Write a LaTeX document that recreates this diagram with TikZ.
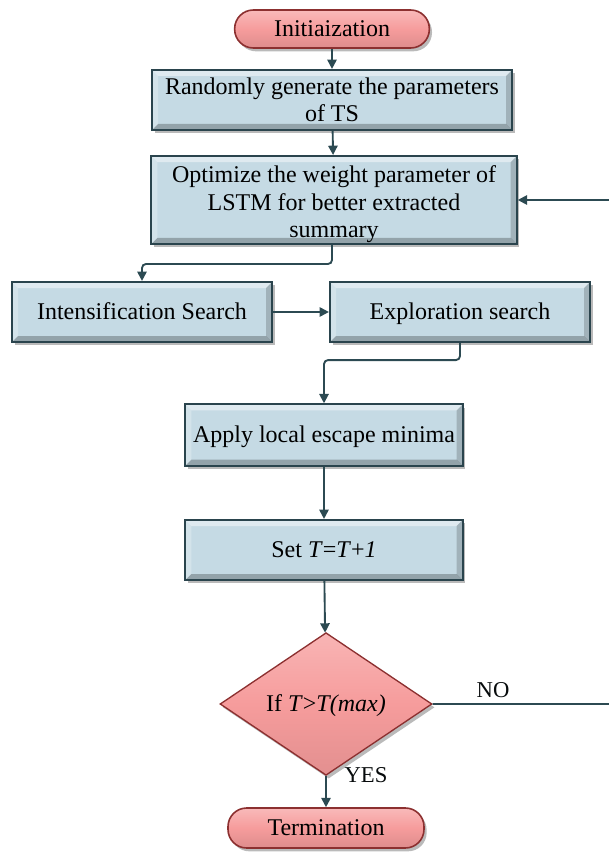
\documentclass[tikz,border=0pt]{standalone}
\usepackage{fontspec}
\setmainfont{Liberation Serif}
\usetikzlibrary{shapes.geometric,arrows.meta,shadows,calc}
\definecolor{boxfill}{HTML}{C5DAE4}
\definecolor{boxedge}{HTML}{2A444D}
\definecolor{redfill}{HTML}{F69C9C}
\definecolor{rededge}{HTML}{8C3030}
\definecolor{arrcol}{HTML}{2C4A52}
\tikzset{
  base/.style={font=\fontsize{18}{20.5}\selectfont, align=center, inner sep=1pt,
    drop shadow={shadow xshift=2pt, shadow yshift=-2.5pt, fill=black!45, opacity=0.6}},
  one/.style={text height=13pt, text depth=1.5pt},
  bevel/.style={path picture={
    \fill[white,opacity=0.45] (path picture bounding box.north west) -- (path picture bounding box.north east)
      -- ($(path picture bounding box.north east)+(-#1,-#1)$) -- ($(path picture bounding box.north west)+(#1,-#1)$) -- cycle;
    \fill[white,opacity=0.25] (path picture bounding box.north west) -- (path picture bounding box.south west)
      -- ($(path picture bounding box.south west)+(#1,#1)$) -- ($(path picture bounding box.north west)+(#1,-#1)$) -- cycle;
    \fill[black,opacity=0.18] (path picture bounding box.north east) -- (path picture bounding box.south east)
      -- ($(path picture bounding box.south east)+(-#1,#1)$) -- ($(path picture bounding box.north east)+(-#1,-#1)$) -- cycle;
    \fill[black,opacity=0.25] (path picture bounding box.south west) -- (path picture bounding box.south east)
      -- ($(path picture bounding box.south east)+(-#1,#1)$) -- ($(path picture bounding box.south west)+(#1,#1)$) -- cycle;
  }},
  procbox/.style={base, rectangle, draw=boxedge, line width=1.6pt, fill=boxfill, bevel=4.5pt},
  termbox/.style={base, one, rectangle, rounded corners=14pt, draw=rededge, line width=1.2pt,
    top color=redfill!70!white, bottom color=redfill!90!black, middle color=redfill},
  decbox/.style={base, one, diamond, draw=rededge, line width=1pt, inner sep=0pt,
    top color=redfill!75!white, bottom color=redfill!92!black, middle color=redfill},
  arr/.style={draw=arrcol, line width=1.4pt, -{Triangle[length=7pt,width=7pt]}, rounded corners=3pt},
  lbl/.style={font=\fontsize{17}{18}\selectfont, text=black!85!arrcol, inner sep=0pt}
}
\begin{document}
\begin{tikzpicture}[x=0.75pt,y=-0.75pt]
\useasboundingbox (0,0) rectangle (608,852);
\node[termbox, minimum width=146pt, minimum height=28.5pt] (init) at (332,29) {Initiaization};
\node[procbox, minimum width=270pt, minimum height=45pt] (b1) at (332,100)
  {Randomly generate the parameters\\of TS};
\node[procbox, minimum width=274pt, minimum height=64pt] (b2) at (334,200)
  {\rule{0pt}{19pt}Optimize the weight parameter of\\LSTM for better extracted\\summary};
\node[procbox, one, minimum width=195pt, minimum height=45pt] (b3) at (142,312) {Intensification Search};
\node[procbox, one, minimum width=195pt, minimum height=45pt] (b4) at (460,312) {Exploration search};
\node[procbox, one, minimum width=208pt, minimum height=46pt] (b5) at (324,435) {Apply local escape minima};
\node[procbox, one, minimum width=208pt, minimum height=45pt] (b6) at (324,550) {Set \textit{T}=\textit{T}+\textit{1}};
\node[decbox, minimum width=159pt, minimum height=107pt] (dec) at (326,704) {If \textit{T}>\textit{T(max)}};
\node[termbox, minimum width=147pt, minimum height=30pt] (term) at (326,828) {Termination};

\draw[arr] (init) -- (b1);
\draw[arr] (b1) -- (b2);
\draw[arr] ($(b2.south)+(-2,0)$) -- ++(0,19) -| (b3.north);
\draw[arr] (b3) -- (b4);
\draw[arr] (b4.south) -- ++(0,17) -| (b5.north);
\draw[arr] (b5) -- (b6);
\draw[arr] (b6) -- (dec);
\draw[arr] (dec) -- (term);
\draw[arr] (dec.east) -- ++(195,0) |- (b2.east);
\node[lbl] (no) at (493,690) {NO};
\node[lbl] (yes) at (366,775) {YES};
\end{tikzpicture}
\end{document}
